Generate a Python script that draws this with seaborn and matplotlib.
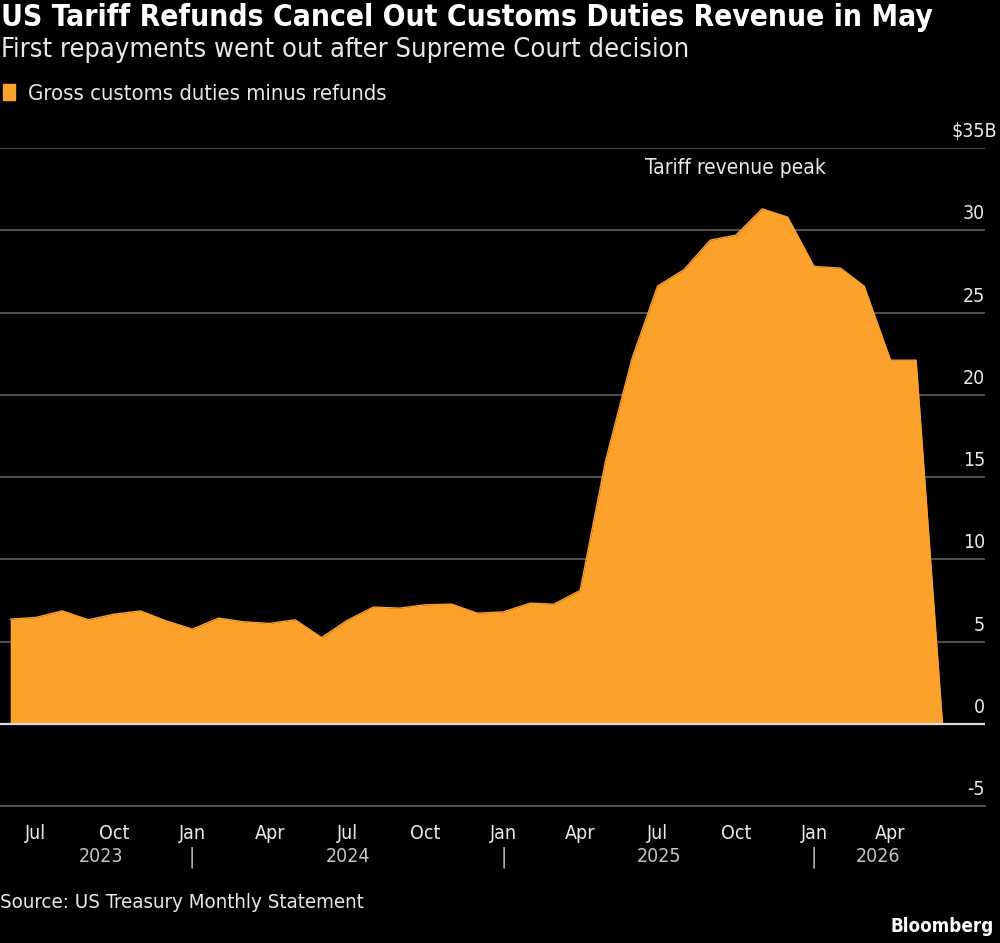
import matplotlib
matplotlib.use("Agg")
import matplotlib.pyplot as plt
import matplotlib.dates as mdates
import matplotlib.ticker as mticker
import matplotlib.transforms as mtransforms
from matplotlib.patches import Patch
import numpy as np
import pandas as pd
import seaborn as sns

# ---- data (monthly, $B) ----
months = pd.date_range("2023-05-01", "2026-05-01", freq="MS")
net_customs = [6.36, 6.46, 6.86, 6.32, 6.66, 6.86, 6.26, 5.75, 6.42, 6.2,
               6.1, 6.32, 5.24, 6.28, 7.09, 7.03, 7.23, 7.27, 6.72, 6.8,
               7.33, 7.27, 8.1, 16.0, 22.2, 26.6, 27.6, 29.4, 29.7, 31.3,
               30.8, 27.8, 27.7, 26.6, 22.1, 22.1, 0.0]
series_label = "Gross customs duties minus refunds"
y_ticks = [-5, 0, 5, 10, 15, 20, 25, 30, 35]
y_labels = ["-5", "0", "5", "10", "15", "20", "25", "30", "$35B"]
years = [2023, 2024, 2025, 2026]
title = "US Tariff Refunds Cancel Out Customs Duties Revenue in May"
subtitle = "First repayments went out after Supreme Court decision"
source = "Source: US Treasury Monthly Statement"
annotation = "Tariff revenue peak"

ORANGE = "#FCA22C"
BG = "#000000"
GRID = "#585858"
TXT = "#e8e8e8"
YEARC = "#c4c4c4"

sns.set_theme(style="dark", rc={
    "figure.facecolor": BG, "axes.facecolor": BG, "savefig.facecolor": BG,
    "text.color": TXT, "axes.labelcolor": TXT,
    "xtick.color": GRID, "ytick.color": GRID,
})
plt.rcParams["font.family"] = ["DejaVu Sans"]
plt.rcParams["font.stretch"] = "condensed"

df = pd.DataFrame({
    # each monthly value is plotted at the end of its month
    "date": months + pd.offsets.MonthBegin(1),
    "value": net_customs,
})

fig = plt.figure(figsize=(10, 9.43), dpi=100)
ax = fig.add_axes([0.0, 1 - 806 / 943, 0.985, (806 - 148) / 943])

ax.fill_between(df["date"], 0, df["value"], color=ORANGE, linewidth=0, zorder=2)
sns.lineplot(data=df, x="date", y="value", ax=ax, color=ORANGE, linewidth=1.0, zorder=3)

ax.set_ylim(-5, 35)
ax.set_xlim(pd.Timestamp("2023-05-20"), pd.Timestamp("2026-07-21"))
ax.set_yticks(y_ticks)
ax.tick_params(axis="y", length=0, labelleft=False, labelright=False)
ax.grid(axis="y", color=GRID, linewidth=1.3, zorder=1)
ax.grid(axis="x", visible=False)
ax.axhline(0, color="#dedede", linewidth=1.6, zorder=4)

for s in ["top", "right", "left"]:
    ax.spines[s].set_visible(False)
ax.spines["bottom"].set_color(GRID)
ax.spines["bottom"].set_linewidth(1.3)

lift = mtransforms.ScaledTranslation(0, 5 / 72, fig.dpi_scale_trans)
trans_y = mtransforms.blended_transform_factory(ax.transAxes, ax.transData) + lift
# the unit suffix of the top label hangs past the number column
unit_shift = mtransforms.ScaledTranslation(9 / 72, 0, fig.dpi_scale_trans)
for v, lab in zip(y_ticks, y_labels):
    tr = trans_y + unit_shift if lab.endswith("B") else trans_y
    ax.text(1.0, v, lab, transform=tr, ha="right", va="bottom",
            fontsize=14, color=TXT)

# x ticks: monthly minor, quarterly major, ending at the last data month
tick_dates = pd.date_range(df["date"].iloc[0], months[-1], freq="MS")
major_dates = [d for d in tick_dates if d.month in (1, 4, 7, 10)]
ax.xaxis.set_major_locator(mticker.FixedLocator(mdates.date2num(major_dates)))
ax.xaxis.set_major_formatter(mdates.DateFormatter("%b"))
ax.xaxis.set_minor_locator(mticker.FixedLocator(mdates.date2num(list(tick_dates))))
ax.tick_params(axis="x", which="major", length=7, width=1.3, pad=6,
               labelsize=14, labelcolor=TXT, color=GRID)
ax.tick_params(axis="x", which="minor", length=4, width=1.3, color=GRID)
ax.set_xlabel("")
ax.set_ylabel("")

# year labels centred on each year's span, separators at Jan
trans_x = mtransforms.blended_transform_factory(ax.transData, ax.transAxes)
first = mdates.date2num(df["date"].iloc[0])
last = mdates.date2num(df["date"].iloc[-1])
for yr in years:
    a = max(mdates.date2num(pd.Timestamp(f"{yr}-01-01")), first)
    b = min(mdates.date2num(pd.Timestamp(f"{yr + 1}-01-01")), last)
    ax.text((a + b) / 2, -0.076, str(yr), transform=trans_x, ha="center", va="center",
            fontsize=14, color=YEARC)
    if yr > years[0]:
        ax.text(mdates.date2num(pd.Timestamp(f"{yr}-01-01")), -0.078, "|", transform=trans_x,
                ha="center", va="center", fontsize=15, color=YEARC)

# annotation
peak_date = df.loc[df["value"].idxmax(), "date"]
ax.annotate(annotation, xy=(peak_date, 33.2), ha="right", va="bottom",
            fontsize=15, color=TXT,
            xytext=(46, 0), textcoords="offset points")

# titles and legend
fig.text(0.001, 1 - 18 / 943, title, fontsize=21.5, fontweight="bold", color="white",
         ha="left", va="center")
fig.text(0.001, 1 - 50 / 943, subtitle, fontsize=19.5, color=TXT, ha="left", va="center")
fig.legend(handles=[Patch(facecolor=ORANGE, edgecolor=ORANGE, label=series_label)],
           loc="center left", bbox_to_anchor=(0.003, 1 - 94 / 943), frameon=False,
           fontsize=15.8, handlelength=0.55, handleheight=0.75, handletextpad=0.6,
           borderpad=0, borderaxespad=0, labelcolor=TXT)
fig.text(0.0, 1 - 903 / 943, source, fontsize=14.7, color=TXT, ha="left", va="center")
fig.text(0.994, 1 - 927 / 943, "Bloomberg", fontsize=13.5, fontweight="bold", color="white",
         ha="right", va="center")

fig.savefig("out.png", dpi=100, facecolor=BG)
